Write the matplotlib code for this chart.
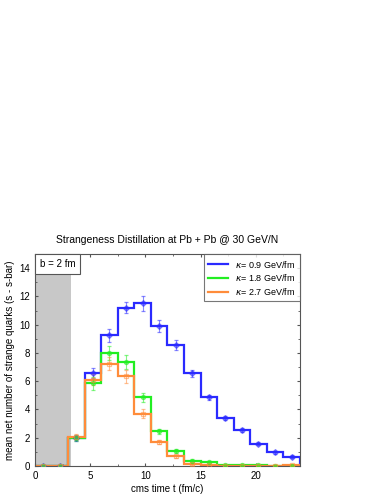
import numpy as np
import matplotlib
matplotlib.use("Agg")
import matplotlib.pyplot as plt
from matplotlib.ticker import MultipleLocator

# bin edges (fm/c) and bin centres
edges = [0, 1.5, 3, 4.5, 6, 7.5, 9, 10.5, 12, 13.5, 15, 16.5, 18, 19.5, 21, 22.5, 24]
centers = [0.75, 2.25, 3.75, 5.25, 6.75, 8.25, 9.75, 11.25, 12.75, 14.25,
           15.75, 17.25, 18.75, 20.25, 21.75, 23.25]

blue = [0, 0, 2.0, 6.55, 9.25, 11.2, 11.5, 9.9, 8.55, 6.55, 4.85, 3.42, 2.53, 1.58, 0.98, 0.65]
blue_err = [0, 0, 0.2, 0.35, 0.45, 0.4, 0.5, 0.4, 0.35, 0.25, 0.2, 0.15, 0.15, 0.12, 0.1, 0.1]
green = [0, 0, 2.0, 5.85, 8.0, 7.35, 4.85, 2.45, 1.05, 0.38, 0.3, 0.07, 0.07, 0.05, 0.03, 0.0]
green_err = [0, 0, 0.2, 0.45, 0.5, 0.5, 0.3, 0.2, 0.12, 0.08, 0.06, 0.03, 0.03, 0.03, 0.02, 0.0]
orange = [0, 0, 2.05, 6.1, 7.25, 6.35, 3.7, 1.7, 0.7, 0.15, 0.1, 0.02, 0.02, 0.02, 0.02, 0.05]
orange_err = [0, 0, 0.2, 0.4, 0.45, 0.45, 0.3, 0.15, 0.1, 0.05, 0.04, 0.02, 0.02, 0.02, 0.02, 0.03]

labels = [r"$\kappa$= 0.9 GeV/fm", r"$\kappa$= 1.8 GeV/fm", r"$\kappa$= 2.7 GeV/fm"]
colors = ["#2a2aff", "#22ee22", "#ff8c3a"]
markers = ["D", "o", "s"]

plt.rcParams["font.family"] = ["Liberation Sans", "DejaVu Sans"]
plt.rcParams["mathtext.fontset"] = "dejavusans"

fig = plt.figure(figsize=(3.82, 4.94), dpi=100)
ax = fig.add_axes([0.0916, 0.0567, 0.6934, 0.4291])

ax.axvspan(0, 3.3, color="#c8c8c8", lw=0, zorder=0)

series = [(blue, blue_err), (green, green_err), (orange, orange_err)]
for (vals, errs), c, m, lab in zip(series, colors, markers, labels):
    ax.stairs(vals, edges, color=c, lw=1.6, label=lab, zorder=2)
    ax.errorbar(centers, vals, yerr=errs, fmt=m, ms=3, color=c, alpha=0.55,
                mfc=c if m != "s" else "none", mew=0.9, elinewidth=0.8,
                capsize=1.5, capthick=0.8, zorder=3)

ax.set_xlim(0, 24)
ax.set_ylim(0, 15)
ax.set_xticks([0, 5, 10, 15, 20])
ax.set_yticks([0, 2, 4, 6, 8, 10, 12, 14])
ax.xaxis.set_minor_locator(MultipleLocator(2.5))
ax.yaxis.set_minor_locator(MultipleLocator(1))
ax.tick_params(which="both", direction="in", top=True, right=True, labelsize=7,
               color="#555555", length=2.5)
ax.tick_params(which="minor", length=1.5)
for s in ax.spines.values():
    s.set_color("#555555")
    s.set_linewidth(0.8)

ax.set_xlabel("cms time t (fm/c)", fontsize=7, labelpad=2)
ax.set_ylabel("mean net number of strange quarks (s - s-bar)", fontsize=7, labelpad=3)
ax.set_title("Strangeness Distillation at Pb + Pb @ 30 GeV/N", fontsize=7.5, pad=8)

ax.text(0.018, 0.975, "b = 2 fm", transform=ax.transAxes, fontsize=7, va="top", ha="left",
        bbox=dict(boxstyle="square,pad=0.5", fc="white", ec="#555555", lw=0.8), zorder=5)

leg = ax.legend(loc="upper right", fontsize=6.5, frameon=True, fancybox=False,
                edgecolor="#555555", borderaxespad=0, handlelength=2.2,
                labelspacing=0.3, borderpad=0.5)
leg.get_frame().set_linewidth(0.8)

fig.savefig("out.png", dpi=100)
